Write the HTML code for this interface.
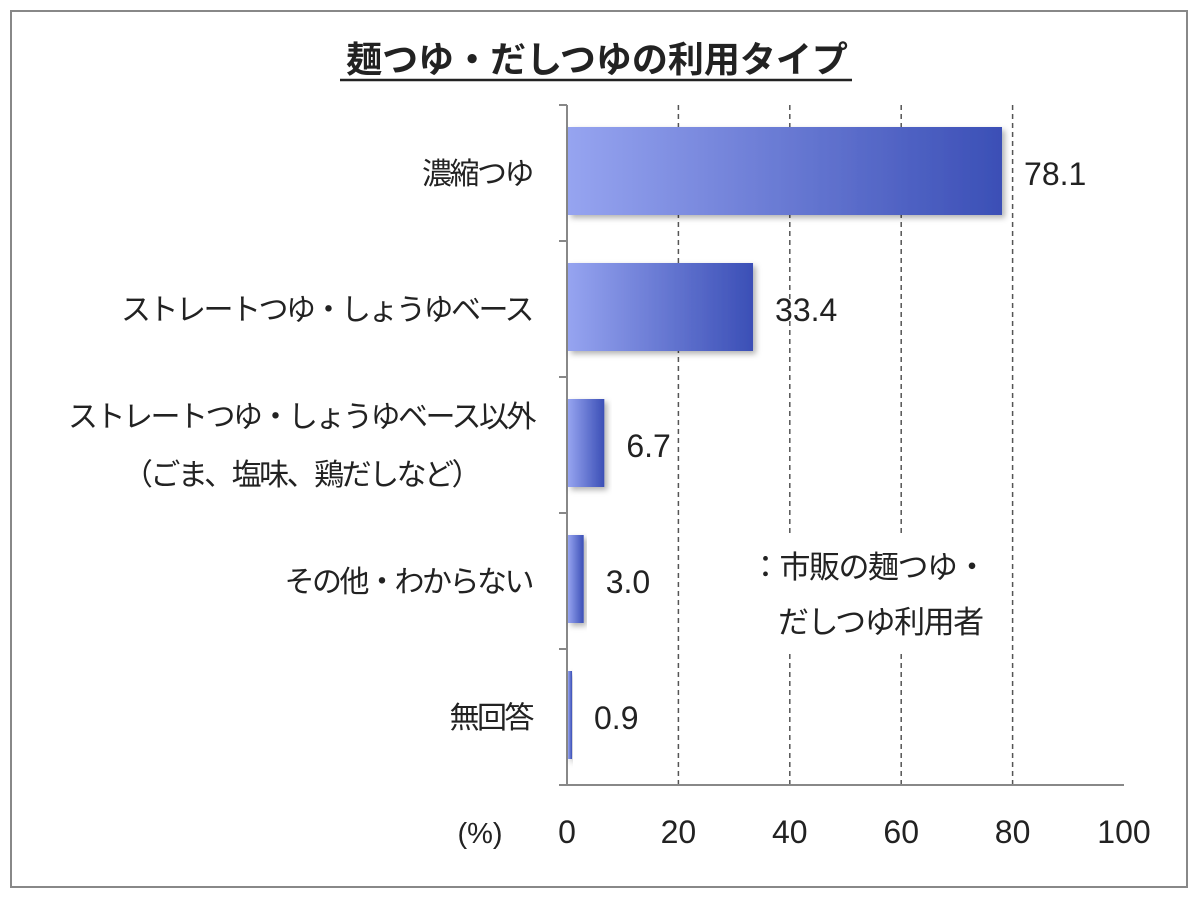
<!DOCTYPE html>
<html><head><meta charset="utf-8"><style>
body{margin:0;background:#fff;width:1200px;height:900px;overflow:hidden}
svg text{font-family:"Liberation Sans","Noto Sans CJK JP",sans-serif;fill:#222}
</style></head><body>
<svg width="1200" height="900">
<defs>
<linearGradient id="g" x1="0" x2="1" y1="0" y2="0"><stop offset="0" stop-color="#96a4f0"/><stop offset="1" stop-color="#3b4fb6"/></linearGradient>
<filter id="sh" x="-10%" y="-10%" width="130%" height="130%"><feDropShadow dx="3" dy="3" stdDeviation="3" flood-color="#000" flood-opacity="0.3"/></filter>
</defs>
<rect x="11" y="11" width="1176" height="876" fill="#fff" stroke="#888" stroke-width="2"/>
<text x="597" y="72" font-size="36" font-weight="bold" text-anchor="middle">麺つゆ・だしつゆの利用タイプ</text>
<line x1="340" y1="80" x2="852" y2="80" stroke="#222" stroke-width="2.5"/>
<g id="plot"></g>
</svg>
<script>
const categories=[["濃縮つゆ"],["ストレートつゆ・しょうゆベース"],["ストレートつゆ・しょうゆベース以外","（ごま、塩味、鶏だしなど）"],["その他・わからない"],["無回答"]];
const values=[78.1,33.4,6.7,3.0,0.9];
const ticks=[0,20,40,60,80,100];
const NS="http://www.w3.org/2000/svg";
const g=document.getElementById('plot');
const x0=567,x1=1124,yTop=105,yBot=785;
const xs=v=>x0+(x1-x0)*v/100;
const band=(yBot-yTop)/categories.length;
const yc=i=>yTop+band*(i+0.5);
function mk(t,a,p){const e=document.createElementNS(NS,t);for(const k in a)e.setAttribute(k,a[k]);(p||g).appendChild(e);return e;}
ticks.forEach(t=>{
 if(t>0&&t<100){const l=mk('line',{x1:xs(t),x2:xs(t),y1:yTop,y2:yBot,stroke:'#555','stroke-width':1.5,'stroke-dasharray':'5,4'});
 
 }
 const tx=mk('text',{x:xs(t),y:843,'font-size':32,'text-anchor':'middle'});tx.textContent=t;
 
 
});
const unit=mk('text',{x:480,y:843,'font-size':29,'text-anchor':'middle'});unit.textContent='(%)';


const lb=mk('rect',{x:742,y:535,width:263,height:117,fill:'#fff'});


const l1=mk('text',{x:750,y:578,'font-size':31,'letter-spacing':-1.5});l1.textContent='：市販の麺つゆ・';


const l2=mk('text',{x:778,y:633,'font-size':31,'letter-spacing':-1.5});l2.textContent='だしつゆ利用者';


mk('line',{x1:x0,x2:x0,y1:yTop,y2:yBot,stroke:'#888','stroke-width':2});
mk('line',{x1:x0,x2:x1,y1:yBot,y2:yBot,stroke:'#888','stroke-width':2});
for(let i=0;i<=categories.length;i++)mk('line',{x1:x0-8,x2:x0,y1:yTop+band*i,y2:yTop+band*i,stroke:'#888','stroke-width':2});
values.forEach((v,i)=>{
 const h=88;
 const r=mk('rect',{x:x0+1,y:yc(i)-h/2-2,width:Math.max(xs(v)-x0-1,3),height:h,fill:'url(#g)',filter:'url(#sh)'});
 
 
 const t=mk('text',{x:xs(v)+22,y:yc(i)+12,'font-size':32});t.textContent=v.toFixed(1);
 
 
 const lines=categories[i];
 const els=lines.map((s,j)=>{
  const c=mk('text',{x:532,y:yc(i)+11+(j-(lines.length-1)/2)*58,'font-size':30,'text-anchor':'end','letter-spacing':-2.5});c.textContent=s;
  
  
  return c;
 });
 if(els.length>1){
  const w=Math.max(...els.map(e=>e.getComputedTextLength()));
  els.forEach(e=>{e.setAttribute('text-anchor','middle');e.setAttribute('x',534-w/2);});
 }
});
</script>
</body></html>
